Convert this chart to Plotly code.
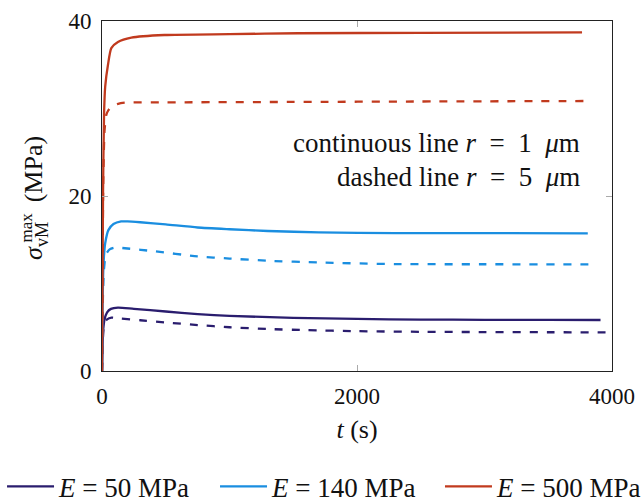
import plotly.graph_objects as go

# ---- data ----
t_e50_r1 = [0, 5, 10, 20, 40, 70, 125, 250, 500, 750, 1000, 1500, 2000, 2500, 3000, 3500, 3910]
s_e50_r1 = [0, 3.0, 4.8, 5.9, 6.7, 7.1, 7.25, 7.1, 6.8, 6.5, 6.3, 6.08, 5.95, 5.88, 5.85, 5.84, 5.83]

t_e50_r5 = [0, 5, 10, 20, 40, 75, 150, 300, 500, 750, 1000, 1300, 1600, 2000, 2500, 3000, 3500, 3990]
s_e50_r5 = [0, 3.0, 4.6, 5.5, 5.9, 6.1, 6.0, 5.8, 5.55, 5.25, 5.0, 4.8, 4.67, 4.55, 4.48, 4.45, 4.43, 4.42]

t_e140_r1 = [0, 4, 8, 15, 25, 50, 90, 150, 200, 300, 500, 750, 1000, 1300, 1700, 2300, 3000, 3810]
s_e140_r1 = [0, 6.0, 10.4, 13.0, 14.6, 16.1, 16.8, 17.1, 17.1, 17.0, 16.75, 16.4, 16.2, 16.0, 15.85, 15.75, 15.75, 15.74]

t_e140_r5 = [0, 4, 8, 15, 30, 60, 100, 200, 400, 750, 1000, 1300, 1700, 2300, 3000, 3880]
s_e140_r5 = [0, 5.0, 9.0, 11.5, 13.3, 13.9, 14.1, 14.0, 13.7, 13.1, 12.85, 12.6, 12.4, 12.22, 12.2, 12.19]

t_e500_r1 = [0, 4, 8, 16, 25, 47, 73, 125, 230, 490, 1000, 1537, 2500, 3765]
s_e500_r1 = [0, 10, 20, 29.3, 32.5, 35.0, 36.9, 37.6, 38.1, 38.4, 38.5, 38.6, 38.65, 38.7]

t_e500_r5 = [0, 5, 10, 20, 34, 50, 73, 120, 178, 500, 1500, 2500, 3835]
s_e500_r5 = [0, 12, 22, 27.5, 29.3, 29.8, 30.2, 30.5, 30.66, 30.7, 30.75, 30.8, 30.86]

legend_labels = ["<i>E</i> = 50 MPa", "<i>E</i> = 140 MPa", "<i>E</i> = 500 MPa"]
colors = ["#2a1d6e", "#1a8ee0", "#c13a1e"]

x_ticks = [0, 2000, 4000]
y_ticks = [0, 20, 40]

FONT = "Liberation Serif"
TXT = 26
TICK = 23
EN = "\u2002"

fig = go.Figure()

series = [
    (t_e50_r1, s_e50_r1, t_e50_r5, s_e50_r5),
    (t_e140_r1, s_e140_r1, t_e140_r5, s_e140_r5),
    (t_e500_r1, s_e500_r1, t_e500_r5, s_e500_r5),
]
legend_ids = ["legend", "legend2", "legend3"]
for (t1, s1, t5, s5), lab, col, lid in zip(series, legend_labels, colors, legend_ids):
    fig.add_trace(go.Scatter(x=t1, y=s1, mode="lines", name=lab, legend=lid,
                             line=dict(color=col, width=2.3, shape="spline", smoothing=0.6)))
    fig.add_trace(go.Scatter(x=t5, y=s5, mode="lines", showlegend=False,
                             line=dict(color=col, width=2.3, dash="8px,9px", shape="spline", smoothing=0.6)))

axis_common = dict(
    showgrid=False, zeroline=False, showline=True, linecolor="#222", linewidth=1,
    mirror="allticks", ticks="inside", ticklen=6, tickcolor="#aaa", tickwidth=1,
    tickfont=dict(family=FONT, size=TICK, color="#111"), automargin=False,
)

legend_common = dict(orientation="h", xref="paper", yref="paper", y=-0.331,
                     xanchor="left", yanchor="middle", font=dict(family=FONT, size=27),
                     itemwidth=47, bgcolor="rgba(0,0,0,0)")

fig.update_layout(
    width=644, height=501,
    margin=dict(l=102, r=32, t=21, b=130, autoexpand=False),
    paper_bgcolor="white", plot_bgcolor="white",
    font=dict(family=FONT, size=TXT, color="#111"),
    xaxis=dict(range=[0, 4000], tickvals=x_ticks, ticklabelstandoff=4, **axis_common,
               title=dict(text="<i>t</i> (s)", font=dict(family=FONT, size=TXT), standoff=12)),
    yaxis=dict(range=[0, 40], tickvals=y_ticks, ticklabelstandoff=5, **axis_common),
    legend=dict(x=-0.196, **legend_common),
    legend2=dict(x=0.2216, **legend_common),
    legend3=dict(x=0.6627, **legend_common),
    showlegend=True,
)

# y-axis title built from annotations (stacked super/subscript)
fig.add_annotation(text=f"<i>σ</i><sub>vM</sub>{EN}\u2005(MPa)", xref="paper", yref="y",
                   x=-0.131, y=19.8, textangle=-90, showarrow=False,
                   font=dict(family=FONT, size=TXT, color="#111"),
                   xanchor="center", yanchor="middle")
fig.add_annotation(text="max", xref="paper", yref="y",
                   x=-0.149, y=16.4, textangle=-90, showarrow=False,
                   font=dict(family=FONT, size=17, color="#111"),
                   xanchor="center", yanchor="middle")

# in-plot text
fig.add_annotation(text=f"continuous line <i>r</i>{EN}={EN}1{EN}<i>μ</i>m", xref="x", yref="y",
                   x=3765, y=26.1, showarrow=False, xanchor="right", yanchor="middle",
                   font=dict(family=FONT, size=27, color="#111"))
fig.add_annotation(text=f"dashed line <i>r</i>{EN}={EN}5{EN}<i>μ</i>m", xref="x", yref="y",
                   x=3765, y=22.2, showarrow=False, xanchor="right", yanchor="middle",
                   font=dict(family=FONT, size=27, color="#111"))

fig.write_html("out.html", config={"displayModeBar": False})

# remove the default 8px page margin so the figure sits at the window's corner
with open("out.html", encoding="utf-8") as f:
    html = f.read()
html = html.replace("<body>", '<body style="margin:0;padding:0;overflow:hidden;">', 1)
with open("out.html", "w", encoding="utf-8") as f:
    f.write(html)
